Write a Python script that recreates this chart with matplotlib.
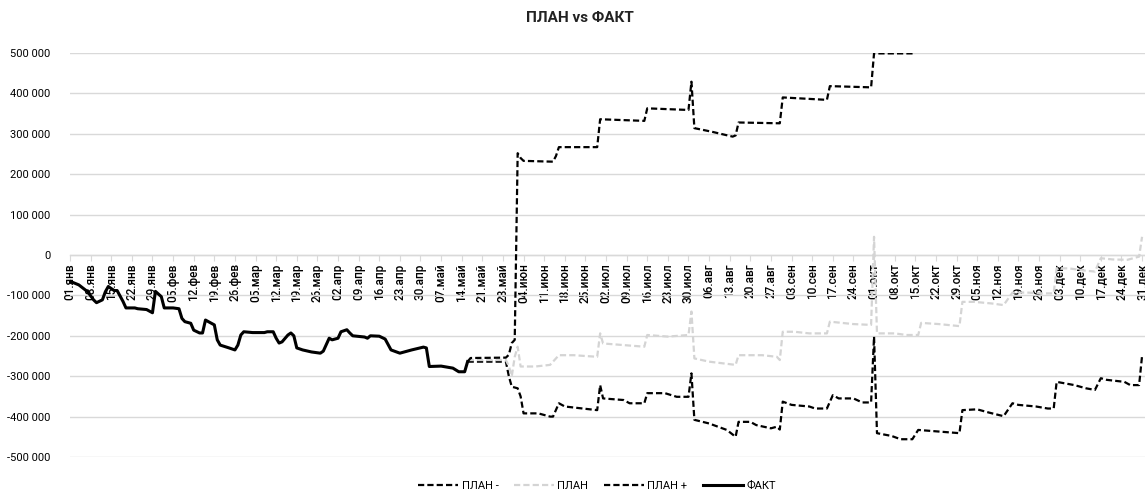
import matplotlib
matplotlib.use("Agg")
import matplotlib.pyplot as plt
from matplotlib.ticker import FuncFormatter, FixedLocator
import numpy as np

plt.rcParams['font.family'] = ['Roboto', 'DejaVu Sans']

title = "ПЛАН vs ФАКТ"
series_names = ["ПЛАН -", "ПЛАН", "ПЛАН +", "ФАКТ"]

tick_labels = [
    "01.янв", "08.янв", "15.янв", "22.янв", "29.янв",
    "05.фев", "12.фев", "19.фев", "26.фев",
    "05.мар", "12.мар", "19.мар", "26.мар",
    "02.апр", "09.апр", "16.апр", "23.апр", "30.апр",
    "07.май", "14.май", "21.май", "28.май",
    "04.июн", "11.июн", "18.июн", "25.июн",
    "02.июл", "09.июл", "16.июл", "23.июл", "30.июл",
    "06.авг", "13.авг", "20.авг", "27.авг",
    "03.сен", "10.сен", "17.сен", "24.сен",
    "01.окт", "08.окт", "15.окт", "22.окт", "29.окт",
    "05.ноя", "12.ноя", "19.ноя", "26.ноя",
    "03.дек", "10.дек", "17.дек", "24.дек", "31.дек",
]
tick_days = list(range(0, 365, 7))

# ФАКТ (day index from 01.янв, value)
fact_days = [0, 3, 6, 8, 9, 11, 12, 13, 15, 16, 18, 19, 22, 23, 26, 28, 29, 31, 32,
             35, 37, 38, 39, 41, 42, 44, 45, 46, 47, 49, 50, 51, 54, 56, 57, 58, 59,
             62, 66, 67, 69, 70, 71, 72, 74, 75, 76, 77, 79, 82, 85, 86, 88, 89, 91,
             92, 94, 95, 96, 100, 101, 102, 105, 107, 109, 112, 116, 120, 121, 122,
             126, 130, 132, 134, 135]
fact_vals = [-65000, -74000, -91000, -111000, -118000, -111000, -91000, -78000, -88000,
             -88000, -115000, -131000, -131000, -133000, -135000, -143000, -90000,
             -103000, -131000, -131000, -133000, -157000, -165000, -169000, -186000,
             -193000, -193000, -161000, -165000, -173000, -210000, -223000, -230000,
             -235000, -223000, -198000, -190000, -192000, -192000, -190000, -190000,
             -206000, -218000, -215000, -198000, -193000, -200000, -230000, -235000,
             -240000, -243000, -238000, -206000, -210000, -206000, -190000, -185000,
             -193000, -200000, -203000, -206000, -200000, -201000, -208000, -235000,
             -243000, -235000, -228000, -230000, -276000, -275000, -280000, -289000,
             -289000, -264000]

# ПЛАН +
plus_days = [135, 136, 148, 149, 150, 151, 152, 153, 154, 164, 165, 166, 179, 180, 195,
             196, 210, 211, 212, 218, 225, 226, 227, 241, 242, 257, 258, 272, 273, 287]
plus_vals = [-264000, -255000, -254000, -247000, -218000, -210000, 252000, 240000,
             233000, 231000, 245000, 267000, 267000, 336000, 332000, 363000, 359000,
             429000, 314000, 305000, 293000, 296000, 328000, 326000, 390000, 384000,
             418000, 415000, 499000, 499000]

# ПЛАН -
minus_days = [135, 148, 149, 150, 152, 153, 154, 159, 163, 164, 166, 168, 179, 180, 181,
              188, 190, 195, 196, 202, 206, 210, 211, 212, 217, 223, 226, 227, 231, 233,
              238, 240, 241, 242, 245, 251, 253, 257, 259, 261, 266, 269, 272, 273, 274,
              279, 282, 286, 288, 295, 302, 303, 308, 312, 317, 320, 322, 328, 332, 334,
              335, 338, 341, 345, 348, 350, 352, 358, 360, 363, 364]
minus_vals = [-264000, -264000, -300000, -326000, -330000, -350000, -392000, -392000,
              -400000, -400000, -367000, -375000, -384000, -322000, -355000, -359000,
              -367000, -367000, -342000, -342000, -351000, -351000, -293000, -408000,
              -417000, -433000, -450000, -413000, -413000, -421000, -429000, -425000,
              -432000, -363000, -371000, -375000, -380000, -380000, -347000, -355000,
              -355000, -365000, -365000, -202000, -441000, -448000, -456000, -456000,
              -433000, -437000, -441000, -384000, -382000, -390000, -399000, -367000,
              -371000, -375000, -380000, -380000, -314000, -318000, -322000, -330000,
              -334000, -305000, -309000, -314000, -322000, -322000, -250000]

# ПЛАН
plan_days = [135, 148, 149, 150, 151, 152, 153, 158, 163, 166, 171, 179, 180, 181, 188,
             195, 196, 203, 210, 211, 212, 217, 226, 227, 235, 240, 241, 242, 246, 251,
             257, 258, 266, 272, 273, 274, 280, 284, 288, 289, 295, 302, 303, 307, 313,
             317, 320, 325, 330, 334, 335, 339, 345, 348, 350, 354, 359, 363, 364]
plan_vals = [-260000, -260000, -275000, -300000, -252000, -227000, -276000, -276000,
             -272000, -248000, -248000, -252000, -194000, -219000, -223000, -227000,
             -198000, -202000, -198000, -140000, -256000, -264000, -272000, -248000,
             -248000, -252000, -260000, -190000, -190000, -194000, -194000, -165000,
             -171000, -173000, 45000, -194000, -194000, -198000, -198000, -168000,
             -171000, -176000, -116000, -116000, -120000, -124000, -93000, -93000,
             -95000, -95000, -33000, -33000, -39000, -41000, -8000, -11000, -12000,
             -4000, 45000]

W, H = 1145, 492
fig = plt.figure(figsize=(W / 100, H / 100), dpi=100)
ax = fig.add_axes([70 / W, 35 / H, 1075 / W, 404 / H])

dash = (2.8, 1.4)
grid_c = "#d9d9d9"
gray_c = "#d4d4d4"

l_minus, = ax.plot(minus_days, minus_vals, color="black", lw=1.6, dashes=dash, zorder=3)
l_plan, = ax.plot(plan_days, plan_vals, color=gray_c, lw=1.6, dashes=dash, zorder=3)
l_plus, = ax.plot(plus_days, plus_vals, color="black", lw=1.6, dashes=dash, zorder=3)
l_fact, = ax.plot(fact_days, fact_vals, color="black", lw=2.2, zorder=4,
                  solid_joinstyle="round")

ax.set_xlim(0, 365)
ax.set_ylim(-500000, 500000)
ax.yaxis.set_major_locator(FixedLocator(np.arange(-500000, 500001, 100000)))
ax.yaxis.set_major_formatter(FuncFormatter(
    lambda v, p: f"{int(round(v)):,}".replace(",", " ")))
ax.grid(axis="y", color=grid_c, lw=1.0, zorder=0)
ax.set_axisbelow(True)

for s in ["top", "right", "left"]:
    ax.spines[s].set_visible(False)
ax.spines["bottom"].set_position(("data", 0))
ax.spines["bottom"].set_color(grid_c)
ax.spines["bottom"].set_linewidth(1.0)

ax.set_xticks(tick_days)
ax.set_xticklabels(tick_labels, rotation=90, fontsize=8.5, color="black",
                   fontweight="medium")
ax.tick_params(axis="x", direction="out", length=4, width=0.8, color=grid_c, pad=2)
ax.tick_params(axis="y", length=0, pad=14, labelsize=8, labelcolor="black")

fig.text(580 / W, 1 - 18 / H, title, ha="center", va="center", fontsize=11,
         fontweight="bold", color="#222222")

handles = [l_minus, l_plan, l_plus, l_fact]
fig.legend(handles, series_names, loc="center", bbox_to_anchor=(597 / W, 6 / H),
           ncol=4, frameon=False, fontsize=8, handlelength=3.6, handletextpad=0.3,
           columnspacing=1.4, borderaxespad=0, borderpad=0)

fig.savefig("out.png", dpi=100)
